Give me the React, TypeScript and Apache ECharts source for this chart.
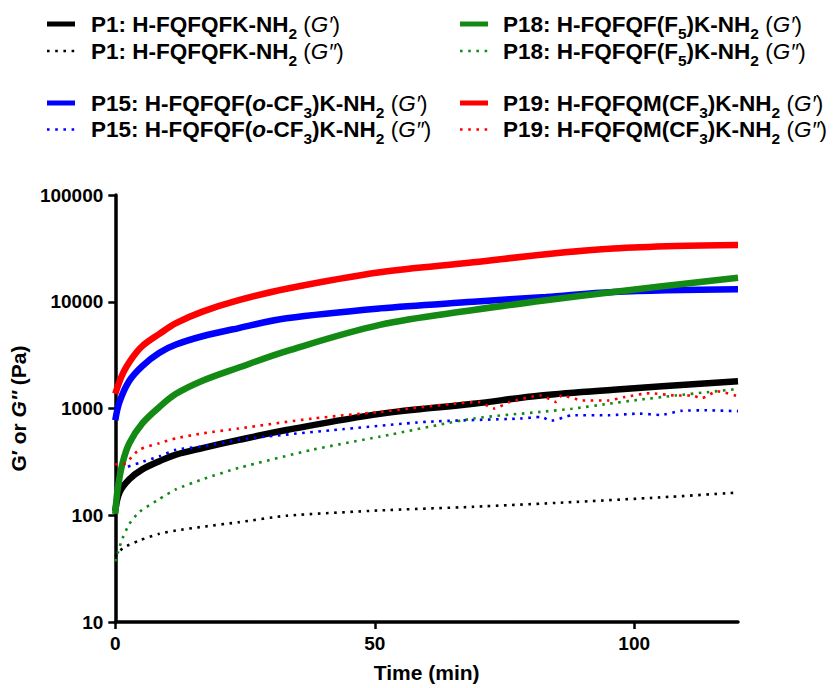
import React, { useEffect, useRef } from "react";
import * as echarts from "echarts";

const FONT = "'Liberation Sans', Arial, Helvetica, sans-serif";

type Pt = [number, number];

// Time (min), modulus (Pa)
const P1_G1: Pt[] = [
  [0, 110], [0.8, 163], [2.7, 217], [5.2, 269], [8.5, 321], [11.7, 370], [16.8, 426],
  [23.8, 508], [33, 628], [51, 890], [69, 1107], [82, 1325], [96, 1500], [120, 1800],
];
const P1_G2: Pt[] = [
  [0, 41], [1.4, 49], [4.6, 58], [8.5, 67], [11.7, 72], [16.8, 78], [23.8, 86], [33, 99],
  [51, 111], [69, 120], [87, 132], [105, 147], [120, 163],
];
const P15_G1: Pt[] = [
  [0, 776], [0.8, 1150], [2.7, 1820], [5.2, 2500], [8.5, 3330], [11.7, 3970], [16.8, 4750],
  [23.8, 5670], [33, 7000], [51, 8670], [69, 10000], [83, 11100], [96, 12360], [120, 13060],
];
const P15_G2: Pt[] = [
  [0, 188], [1.4, 269], [4.6, 309], [8.5, 356], [11.7, 411], [16.8, 441], [23.8, 508],
  [29, 545], [42, 628], [60, 750], [78, 805], [82, 834], [84, 767], [88, 865], [95, 865],
  [101, 896], [105, 870], [109, 950], [114, 962], [120, 944],
];
const P18_G1: Pt[] = [
  [0, 103], [0.45, 175], [1.4, 309], [2.7, 473], [5.2, 725], [8.5, 1033], [11.7, 1372],
  [16.8, 1820], [23.8, 2420], [33, 3450], [51, 6070], [69, 8360], [83, 10350], [96, 12360],
  [120, 16750],
];
const P18_G2: Pt[] = [
  [0, 37], [0.45, 44], [1.4, 61], [2.7, 83], [4.6, 107], [8.5, 142], [11.7, 175], [16.8, 217],
  [23.8, 278], [38, 411], [51, 545], [69, 806], [82, 930], [88, 995], [95, 1107], [101, 1208],
  [108, 1325], [114, 1420], [120, 1525],
];
const P19_G1: Pt[] = [
  [0, 1372], [1.4, 2100], [3.3, 2990], [5.2, 3840], [8.5, 5000], [11.7, 6300], [16.8, 8080],
  [23.8, 10350], [33, 13250], [51, 18900], [69, 23400], [83, 27900], [96, 31500], [108, 33300],
  [120, 34000],
];
const P19_G2: Pt[] = [
  [0, 300], [1.4, 298], [4.6, 411], [8.5, 473], [11.7, 526], [16.8, 585], [23.8, 650],
  [38, 806], [51, 930], [65, 1107], [70, 1150], [73, 1000], [76, 1150], [82, 1325], [85, 1150],
  [86, 1325], [90, 1190], [95, 1190], [98, 1277], [103, 1390], [108, 1325], [111, 1325],
  [113, 1250], [116, 1450], [120, 1300],
];

const X_TICKS = [0, 50, 100];
const Y_TICKS = [10, 100, 1000, 10000, 100000];

const BLACK = "#000000";
const BLUE = "#0000ff";
const GREEN = "#138a13";
const RED = "#ff0000";

const SERIES_DEFS = [
  { name: "P1 G'", data: P1_G1, color: BLACK, dotted: false },
  { name: "P1 G''", data: P1_G2, color: BLACK, dotted: true },
  { name: "P15 G'", data: P15_G1, color: BLUE, dotted: false },
  { name: "P15 G''", data: P15_G2, color: BLUE, dotted: true },
  { name: "P18 G'", data: P18_G1, color: GREEN, dotted: false },
  { name: "P18 G''", data: P18_G2, color: GREEN, dotted: true },
  { name: "P19 G'", data: P19_G1, color: RED, dotted: false },
  { name: "P19 G''", data: P19_G2, color: RED, dotted: true },
];

const PRIME1 = "{n| (}{i|G\u2032}{n|)}";
const PRIME2 = "{n| (}{i|G\u2033}{n|)}";
const LABEL_P1 = "{b|P1: H-FQFQFK-NH}{s|2}";
const LABEL_P15 = "{b|P15: H-FQFQF(}{bi|o}{b|-CF}{s|3}{b|)K-NH}{s|2}";
const LABEL_P18 = "{b|P18: H-FQFQF(F}{s|5}{b|)K-NH}{s|2}";
const LABEL_P19 = "{b|P19: H-FQFQM(CF}{s|3}{b|)K-NH}{s|2}";

const LEGEND_ITEMS = [
  { text: LABEL_P1 + PRIME1, color: BLACK, dotted: false, col: 0, row: 0 },
  { text: LABEL_P1 + PRIME2, color: BLACK, dotted: true, col: 0, row: 1 },
  { text: LABEL_P15 + PRIME1, color: BLUE, dotted: false, col: 0, row: 2 },
  { text: LABEL_P15 + PRIME2, color: BLUE, dotted: true, col: 0, row: 3 },
  { text: LABEL_P18 + PRIME1, color: GREEN, dotted: false, col: 1, row: 0 },
  { text: LABEL_P18 + PRIME2, color: GREEN, dotted: true, col: 1, row: 1 },
  { text: LABEL_P19 + PRIME1, color: RED, dotted: false, col: 1, row: 2 },
  { text: LABEL_P19 + PRIME2, color: RED, dotted: true, col: 1, row: 3 },
];

const ROW_Y = [24, 51, 103, 129.5];
const COL_ICON_X = [47, 460];
const COL_TEXT_X = [91, 503];

const LEG_FS = 22.5;
const richLegend = {
  b: { fontFamily: FONT, fontSize: LEG_FS, fontWeight: "bold", color: "#000", lineHeight: 24, verticalAlign: "middle" },
  bi: { fontFamily: FONT, fontSize: LEG_FS, fontWeight: "bold", fontStyle: "italic", color: "#000", lineHeight: 24, verticalAlign: "middle" },
  n: { fontFamily: FONT, fontSize: LEG_FS, fontWeight: "normal", color: "#000", lineHeight: 24, verticalAlign: "middle" },
  i: { fontFamily: FONT, fontSize: LEG_FS, fontWeight: "normal", fontStyle: "italic", color: "#000", lineHeight: 24, verticalAlign: "middle" },
  s: { fontFamily: FONT, fontSize: 15.5, fontWeight: "bold", color: "#000", lineHeight: 15, padding: [18, 0, 0, 0], verticalAlign: "middle" },
};

export default function App() {
  const ref = useRef<HTMLDivElement>(null);

  useEffect(() => {
    document.body.style.margin = "0";
    if (!ref.current) return;
    const chart = echarts.init(ref.current, undefined, { renderer: "svg" });

    const graphic: any[] = [];
    LEGEND_ITEMS.forEach((it) => {
      const y = ROW_Y[it.row];
      const x0 = COL_ICON_X[it.col];
      graphic.push({
        type: "line",
        shape: { x1: x0, y1: y, x2: x0 + 28, y2: y },
        style: it.dotted
          ? { stroke: it.color, lineWidth: 2.6, lineDash: [2.6, 5.6] }
          : { stroke: it.color, lineWidth: 5 },
      });
      graphic.push({
        type: "text",
        x: COL_TEXT_X[it.col],
        y: y,
        style: {
          text: it.text,
          rich: richLegend,
          verticalAlign: "middle",
          align: "left",
        },
      });
    });

    const series = SERIES_DEFS.map((d) => ({
      name: d.name,
      type: "line",
      data: d.data,
      symbol: "none",
      showSymbol: false,
      smooth: d.dotted ? 0.2 : 0.35,
      clip: true,
      lineStyle: d.dotted
        ? { color: d.color, width: 2.6, type: [2.6, 5.5], cap: "butt" }
        : { color: d.color, width: 6.5 },
      itemStyle: { color: d.color },
    }));

    chart.setOption({
      animation: false,
      backgroundColor: "#ffffff",
      grid: { left: 114, right: 95, top: 195, bottom: 60, containLabel: false },
      xAxis: {
        type: "value",
        min: 0,
        max: 120,
        interval: 50,
        name: "Time (min)",
        nameLocation: "middle",
        nameGap: 40,
        nameTextStyle: { fontFamily: FONT, fontSize: 21, fontWeight: "bold", color: "#000" },
        axisLine: { onZero: false, lineStyle: { color: "#000", width: 3.5 } },
        axisTick: { show: true, length: 7, lineStyle: { color: "#000", width: 2.5 } },
        axisLabel: {
          fontFamily: FONT,
          fontSize: 19,
          fontWeight: "bold",
          color: "#000",
          margin: 12,
          showMaxLabel: false,
          formatter: (v: number) => (X_TICKS.indexOf(v) >= 0 ? String(v) : ""),
        },
        splitLine: { show: false },
      },
      yAxis: {
        type: "log",
        logBase: 10,
        min: Y_TICKS[0],
        max: Y_TICKS[Y_TICKS.length - 1],
        name: "{b|G\u2032 or }{bi|G\u2033}{b| (Pa)}",
        nameLocation: "middle",
        nameRotate: 90,
        nameGap: 78,
        nameTextStyle: {
          rich: {
            b: { fontFamily: FONT, fontSize: 21, fontWeight: "bold", color: "#000" },
            bi: { fontFamily: FONT, fontSize: 21, fontWeight: "bold", fontStyle: "italic", color: "#000" },
          },
        },
        axisLine: { show: true, onZero: false, lineStyle: { color: "#000", width: 3.5 } },
        axisTick: { show: true, length: 7, lineStyle: { color: "#000", width: 2.5 } },
        minorTick: { show: false },
        axisLabel: {
          fontFamily: FONT,
          fontSize: 19,
          fontWeight: "bold",
          color: "#000",
          margin: 12,
          formatter: (v: number) => String(Math.round(v)),
        },
        splitLine: { show: false },
      },
      graphic,
      series,
    });

    return () => chart.dispose();
  }, []);

  return <div ref={ref} style={{ width: 833, height: 688 }} />;
}
